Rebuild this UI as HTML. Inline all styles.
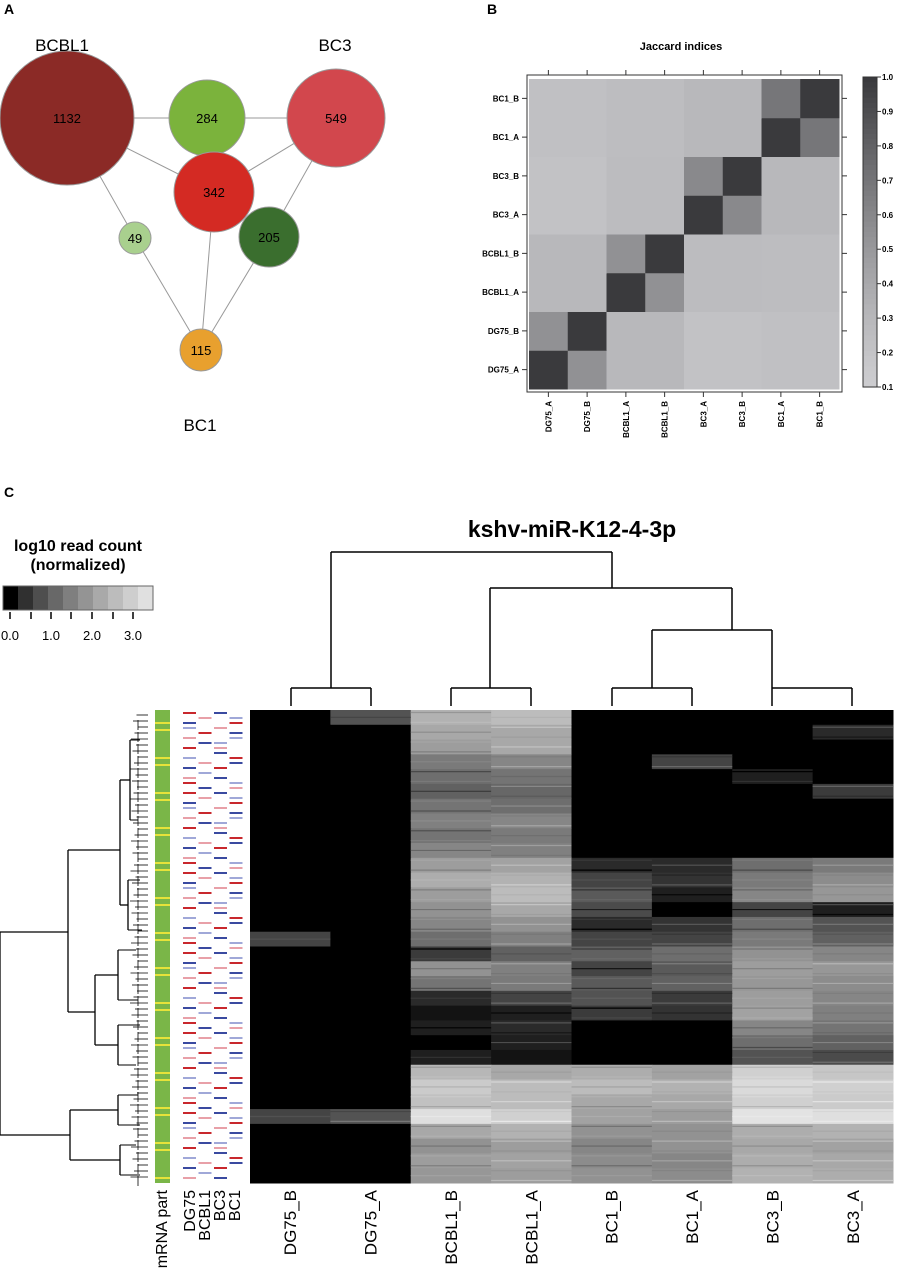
<!DOCTYPE html>
<html><head><meta charset="utf-8"><style>
body{margin:0;background:#fff;width:897px;height:1280px;overflow:hidden;font-family:"Liberation Sans",sans-serif}
svg{position:absolute;left:0;top:0}
</style></head><body>
<svg id="s" width="897" height="1280" xmlns="http://www.w3.org/2000/svg" font-family="Liberation Sans, sans-serif"></svg>
<script>
// ---------- data ----------
const vennLabels=['1132','284','549','342','49','205','115'];
const jSamples=['DG75_A','DG75_B','BCBL1_A','BCBL1_B','BC3_A','BC3_B','BC1_A','BC1_B'];
const jRow0=[1.0,0.55,0.30,0.30,0.22,0.22,0.24,0.24];
const jRow1=[0.55,1.0,0.30,0.30,0.22,0.22,0.24,0.24];
const jRow2=[0.30,0.30,1.0,0.55,0.27,0.27,0.26,0.26];
const jRow3=[0.30,0.30,0.55,1.0,0.27,0.27,0.26,0.26];
const jRow4=[0.22,0.22,0.27,0.27,1.0,0.60,0.30,0.30];
const jRow5=[0.22,0.22,0.27,0.27,0.60,1.0,0.30,0.30];
const jRow6=[0.24,0.24,0.26,0.26,0.30,0.30,1.0,0.70];
const jRow7=[0.24,0.24,0.26,0.26,0.30,0.30,0.70,1.0];
const jaccard=[jRow0,jRow1,jRow2,jRow3,jRow4,jRow5,jRow6,jRow7];
const cbTicks=[1.0,0.9,0.8,0.7,0.6,0.5,0.4,0.3,0.2,0.1];
const hmCols=['DG75_B','DG75_A','BCBL1_B','BCBL1_A','BC1_B','BC1_A','BC3_B','BC3_A'];
const hmRows=[
[0,0.8,2.4,2.6,0,0,0,0],[0,0,2.2,2.2,0,0,0,0.3],[0,0,2.0,2.2,0,0,0,0],[0,0,1.4,1.6,0,0.6,0,0],
[0,0,1.2,1.3,0,0,0.2,0],[0,0,1.0,1.1,0,0,0,0.5],[0,0,1.3,1.2,0,0,0,0],[0,0,1.5,1.6,0,0,0,0],
[0,0,1.3,1.4,0,0,0,0],[0,0,1.6,1.5,0,0,0,0],[0,0,2.0,2.1,0.3,0.3,1.2,1.4],[0,0,2.3,2.4,0.6,0.4,1.4,1.7],
[0,0,2.0,2.6,0.9,0.2,1.6,1.9],[0,0,1.8,2.2,0.7,0,0.6,0.2],[0,0,1.6,1.8,0.3,0.4,1.2,0.8],[0.6,0,1.2,1.5,0.6,0.6,1.4,1.0],
[0,0,0.5,1.0,1.0,1.2,1.8,1.6],[0,0,1.8,1.5,0.6,0.9,2.0,1.9],[0,0,1.3,1.4,0.9,1.0,1.9,1.7],[0,0,0.3,0.6,0.8,0.5,2.0,1.6],
[0,0,0.1,0.2,0.5,0.4,2.1,1.5],[0,0,0.2,0.3,0,0,1.6,1.3],[0,0,0,0.2,0,0,1.2,1.0],[0,0,0.2,0.1,0,0,0.8,0.7],
[0,0,2.5,2.2,2.3,2.1,3.0,2.8],[0,0,2.9,2.6,2.6,2.4,3.2,3.0],[0,0,2.7,2.6,2.2,2.2,3.0,2.9],[0.6,0.8,3.3,3.0,2.1,2.0,3.4,3.3],
[0,0,2.2,2.4,1.8,1.8,2.3,2.4],[0,0,1.8,2.0,1.6,1.8,2.2,2.1],[0,0,2.0,2.1,1.7,1.6,2.3,2.2],[0,0,1.9,2.0,1.8,1.7,2.4,2.3]];
const legendTicks=['0.0','1.0','2.0','3.0'];
const cellPattern=['r.b.','.p.l','b..r','l.p.','.r.b','p..l','.bl.','r.p.','..b.','l..r','.p.b','b.r.','.l..','p.b.','r..l','.b.p'];

// ---------- helpers ----------
const S=document.getElementById('s');const NS='http://www.w3.org/2000/svg';
function el(t,a,txt){const e=document.createElementNS(NS,t);for(const k in a)e.setAttribute(k,a[k]);if(txt!=null)e.textContent=txt;S.appendChild(e);return e;}
function line(x1,y1,x2,y2,c,w){return el('line',{x1,y1,x2,y2,stroke:c||'#000','stroke-width':w||1});}

[['A',4,14],['B',487,14],['C',4,497]].forEach(p=>{const t=el('text',{x:p[1],y:p[2],'font-size':14,'font-weight':'bold'},p[0]);

});

// ---------- Panel A ----------
const nodes=[[67,118,67,'#8b2a26'],[207,118,38,'#7bb33c'],[336,118,49,'#d2474d'],[214,192,40,'#d42a23'],[135,238,16,'#a9d08e'],[269,237,30,'#3a6e2e'],[201,350,21,'#e8a02e']];
const edges=[[0,1],[1,2],[0,3],[2,3],[0,4],[2,5],[4,6],[3,6],[5,6]];
edges.forEach(e=>{const a=nodes[e[0]],b=nodes[e[1]];const l=line(a[0],a[1],b[0],b[1],'#999',1);

});
nodes.forEach((n,i)=>{const c=el('circle',{cx:n[0],cy:n[1],r:n[2],fill:n[3],stroke:'#999','stroke-width':1});


const t=el('text',{x:n[0],y:n[1]+5,'font-size':13,'text-anchor':'middle'},vennLabels[i]);

});
[['BCBL1',62,51],['BC3',335,51],['BC1',200,431]].forEach(p=>{const t=el('text',{x:p[1],y:p[2],'font-size':17,'text-anchor':'middle'},p[0]);

});

// ---------- Panel B ----------
const bx0=529,bx1=839,by0=79,by1=389,n=8,cw=(bx1-bx0)/n;
function jGray(v){const t=Math.pow((v-0.1)/0.9,1.3);const g=Math.round(205-t*(205-58));return `rgb(${g},${g},${g+3})`;}
const tt=el('text',{x:681,y:50,'font-size':11,'font-weight':'bold','text-anchor':'middle'},'Jaccard indices');


for(let i=0;i<n;i++)for(let j=0;j<n;j++){const r=el('rect',{x:bx0+j*cw,y:by1-(i+1)*cw,width:cw+0.5,height:cw+0.5,fill:jGray(jaccard[i][j])});

}
const fr=el('rect',{x:527,y:75,width:315,height:317,fill:'none',stroke:'#333','stroke-width':1});


for(let k=0;k<n;k++){const cx=bx0+(k+0.5)*cw,cy=by1-(k+0.5)*cw;
line(cx,70,cx,75,'#333');line(cx,392,cx,397,'#333');line(522,cy,527,cy,'#333');line(842,cy,847,cy,'#333');
const yl=el('text',{x:519,y:cy+3,'font-size':8,'font-weight':'bold','text-anchor':'end'},jSamples[k]);


const xl=el('text',{x:0,y:0,'font-size':8,'font-weight':'bold','text-anchor':'end',transform:`translate(${cx+3},401) rotate(-90)`},jSamples[k]);

}
const cbx=863,cby0=77,cby1=387;
for(let k=0;k<60;k++){const v=0.1+0.9*(1-k/60);const r=el('rect',{x:cbx,y:cby0+k*(cby1-cby0)/60,width:14,height:(cby1-cby0)/60+0.6,fill:jGray(v)});

}
el('rect',{x:cbx,y:cby0,width:14,height:cby1-cby0,fill:'none',stroke:'#333'});
cbTicks.forEach(v=>{const y=cby1-(v-0.1)/0.9*(cby1-cby0);line(877,y,881,y,'#333');
const t=el('text',{x:882,y:y+3,'font-size':8,'font-weight':'bold'},v.toFixed(1));

});

// ---------- Panel C ----------
const lt1=el('text',{x:78,y:551,'font-size':16,'font-weight':'bold','text-anchor':'middle'},'log10 read count');


el('text',{x:78,y:570,'font-size':16,'font-weight':'bold','text-anchor':'middle'},'(normalized)');
function hGray(v){const t=Math.max(0,Math.min(v/3.5,1));const g=Math.round(Math.pow(t,0.7)*232);return `rgb(${g},${g},${g})`;}
for(let k=0;k<10;k++){const r=el('rect',{x:3+k*15,y:586,width:15,height:24,fill:hGray(k*0.37)});

}
el('rect',{x:3,y:586,width:150,height:24,fill:'none',stroke:'#666'});
[10,31,51,71,92,113,133].forEach(x=>line(x,612,x,619,'#000',1.5));
legendTicks.forEach((t,i)=>{const e=el('text',{x:10+i*41,y:640,'font-size':13,'text-anchor':'middle'},t);

});

const title=el('text',{x:572,y:537,'font-size':23,'font-weight':'bold','text-anchor':'middle'},'kshv-miR-K12-4-3p');



[[331,552,612,552],[331,552,331,688],[612,552,612,588],[490,588,732,588],[490,588,490,688],[732,588,732,630],[652,630,772,630],[652,630,652,688],[772,630,772,688]].forEach(s=>line(...s,'#000',1.5));
[[291,371],[451,531],[612,692],[772,852]].forEach(p=>{line(p[0],688,p[1],688,'#000',1.5);line(p[0],688,p[0],706,'#000',1.5);line(p[1],688,p[1],706,'#000',1.5);});

const hx0=250,hx1=893,hy0=710,hy1=1183,hcw=(hx1-hx0)/8,rh=(hy1-hy0)/hmRows.length;
hmRows.forEach((row,i)=>row.forEach((v,j)=>{const r=el('rect',{x:hx0+j*hcw,y:hy0+i*rh,width:hcw+0.5,height:rh+0.5,fill:hGray(v)});

}));
for(let i=0;i<hmRows.length*3;i++){const ri=Math.floor(i/3);hmRows[ri].forEach((v,j)=>{if(v>0.1&&(i+j)%2==0){const y=hy0+i*rh/3+rh/6;line(hx0+j*hcw,y,hx0+(j+1)*hcw,y,hGray(v+((i%4)-1.5)*0.35),1.2);}});}
hmCols.forEach((c,j)=>{const cx=hx0+(j+0.5)*hcw;const t=el('text',{x:0,y:0,'font-size':17,'text-anchor':'end',transform:`translate(${cx+6},1190) rotate(-90)`},c);

});

const ms=el('rect',{x:155,y:710,width:15,height:473,fill:'#7ab648'});


for(let y=716;y<1180;y+=7){if((y*7)%5<2){line(155,y,170,y,'#e6e23a',2);}}
const pc={r:'#c8282d',b:'#3a4aa0',p:'#e8a0a8',l:'#a0a8d8'};
for(let i=0;i<94;i++){const pat=cellPattern[i%cellPattern.length];for(let k=0;k<4;k++){const ch=pat[k];if(ch!=='.'){const y=713+i*5;line(183+k*15.5,y,196+k*15.5,y,pc[ch],2);}}}
[['mRNA part',167],['DG75',195],['BCBL1',210],['BC3',225],['BC1',240]].forEach(p=>{const t=el('text',{x:0,y:0,'font-size':16,'text-anchor':'end',transform:`translate(${p[1]},1190) rotate(-90)`},p[0]);

});

const ld=[[0,932,0,1135],[0,932,68,932],[0,1135,70,1135],[68,850,68,1012],[68,850,120,850],[68,1012,95,1012],[120,780,120,905],[120,780,130,780],[120,905,128,905],[95,975,95,1045],[95,975,118,975],[95,1045,118,1045],[70,1110,70,1160],[70,1110,118,1110],[70,1160,120,1160],
[130,740,130,820],[128,880,128,930],[118,950,118,1000],[118,1025,118,1065],[118,1095,118,1125],[120,1145,120,1175]];
ld.forEach(s=>line(...s,'#000',1.3));
for(let y=715;y<1182;y+=6){const x=130+((y*13)%17)/2;line(x,y,148,y,'#000',0.8);}
[[130,740,140],[130,820,138],[128,880,140],[128,930,142],[118,950,136],[118,1000,138],[118,1025,140],[118,1065,136],[118,1095,138],[118,1125,140],[120,1145,136],[120,1175,140]].forEach(s=>line(s[0],s[1],s[2],s[1],'#000',1));
for(let y=720;y<1180;y+=12){line(138+((y*7)%6),y,138+((y*7)%6),y+10,'#000',0.8);}
</script>
</body></html>
